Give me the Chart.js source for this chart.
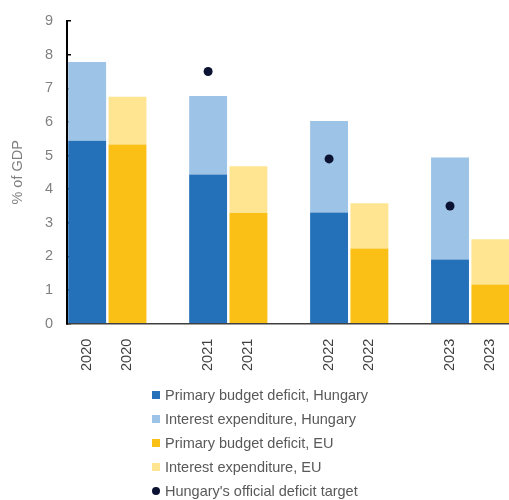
<!DOCTYPE html>
<html>
<head>
<meta charset="utf-8">
<script src="https://cdn.jsdelivr.net/npm/chart.js@4.4.1/dist/chart.umd.min.js"></script>
<style>
  html, body { margin: 0; padding: 0; background: #ffffff; overflow: hidden; }
  canvas { display: block; }
</style>
</head>
<body>
<canvas id="deficitChart" width="515" height="500"></canvas>
<script>
// Hungary vs EU deficit breakdown, % of GDP
const years = ['2020', '2021', '2022', '2023'];
const huPrimary = [5.44, 4.44, 3.31, 1.91];
const huInterest = [2.34, 2.33, 2.72, 3.03];
const euPrimary = [5.33, 3.29, 2.24, 1.17];
const euInterest = [1.42, 1.39, 1.34, 1.34];
const huTarget = [null, 7.5, 4.9, 3.5];

const COLOR_HU_DARK = '#2470B9';
const COLOR_HU_LIGHT = '#9DC3E6';
const COLOR_EU_DARK = '#FBC016';
const COLOR_EU_LIGHT = '#FFE591';
const COLOR_TARGET = '#0B1232';
const FONT = "'Liberation Sans', Arial, sans-serif";
const FONT_SIZE = 14.5;

// each year gets a Hungary slot, an EU slot and an empty spacer slot
const labels = [];
years.forEach((y, i) => {
  labels.push(y, y);
  if (i < years.length - 1) labels.push('');
});

function spread(values, offset) {
  const out = labels.map(() => null);
  values.forEach((v, i) => { out[3 * i + offset] = v; });
  return out;
}

// draws the one-item-per-row legend under the axis
const stackLegendPlugin = {
  id: 'stackLegend',
  afterDraw: (chart) => {
    const { ctx } = chart;
    const left = 152;
    const top = 395;
    const rowGap = 24;
    ctx.save();
    ctx.font = FONT_SIZE + 'px ' + FONT;
    ctx.textBaseline = 'middle';
    chart.data.datasets.forEach((ds, i) => {
      const y = top + i * rowGap;
      ctx.fillStyle = ds.type === 'line' ? ds.pointBackgroundColor : ds.backgroundColor;
      if (ds.type === 'line') {
        ctx.beginPath();
        ctx.arc(left + 4, y, 4, 0, Math.PI * 2);
        ctx.fill();
      } else {
        ctx.fillRect(left, y - 4, 8, 8);
      }
      ctx.fillStyle = '#595959';
      ctx.fillText(ds.label, left + 13, y + 1);
    });
    ctx.restore();
  }
};

const barDefaults = { barPercentage: 0.94, categoryPercentage: 1, borderWidth: 0 };

new Chart(document.getElementById('deficitChart'), {
  type: 'bar',
  data: {
    labels: labels,
    datasets: [
      { label: 'Primary budget deficit, Hungary', data: spread(huPrimary, 0), backgroundColor: COLOR_HU_DARK, order: 2, ...barDefaults },
      { label: 'Interest expenditure, Hungary', data: spread(huInterest, 0), backgroundColor: COLOR_HU_LIGHT, order: 2, ...barDefaults },
      { label: 'Primary budget deficit, EU', data: spread(euPrimary, 1), backgroundColor: COLOR_EU_DARK, order: 2, ...barDefaults },
      { label: 'Interest expenditure, EU', data: spread(euInterest, 1), backgroundColor: COLOR_EU_LIGHT, order: 2, ...barDefaults },
      {
        type: 'line',
        label: "Hungary's official deficit target",
        data: spread(huTarget, 0),
        showLine: false,
        pointRadius: 4.5,
        pointHoverRadius: 4.5,
        pointBackgroundColor: COLOR_TARGET,
        pointBorderColor: COLOR_TARGET,
        pointBorderWidth: 0,
        order: 0
      }
    ]
  },
  plugins: [stackLegendPlugin],
  options: {
    responsive: false,
    animation: false,
    layout: { padding: { top: 21, left: 5, right: 1, bottom: 122 } },
    scales: {
      x: {
        stacked: true,
        grid: { display: false },
        border: { display: true, color: '#404040', width: 1.5 },
        ticks: {
          color: '#404040',
          font: { family: FONT, size: FONT_SIZE },
          minRotation: 90,
          maxRotation: 90,
          autoSkip: false,
          padding: 7
        }
      },
      y: {
        stacked: true,
        min: 0,
        max: 9,
        afterFit: (scale) => {
          scale.width = 62;
          scale.paddingTop = 0;
          scale.paddingBottom = 0;
        },
        grid: { drawOnChartArea: false, drawTicks: true, tickLength: -4, color: '#000000', lineWidth: 1.5 },
        border: { display: true, color: '#000000', width: 2 },
        ticks: {
          stepSize: 1,
          color: '#808080',
          font: { family: FONT, size: FONT_SIZE },
          padding: 18
        },
        title: {
          display: true,
          text: '% of GDP',
          color: '#808080',
          font: { family: FONT, size: FONT_SIZE },
          padding: { top: 4, bottom: 4 }
        }
      }
    },
    plugins: {
      legend: { display: false },
      tooltip: { enabled: false }
    }
  }
});
</script>
</body>
</html>
